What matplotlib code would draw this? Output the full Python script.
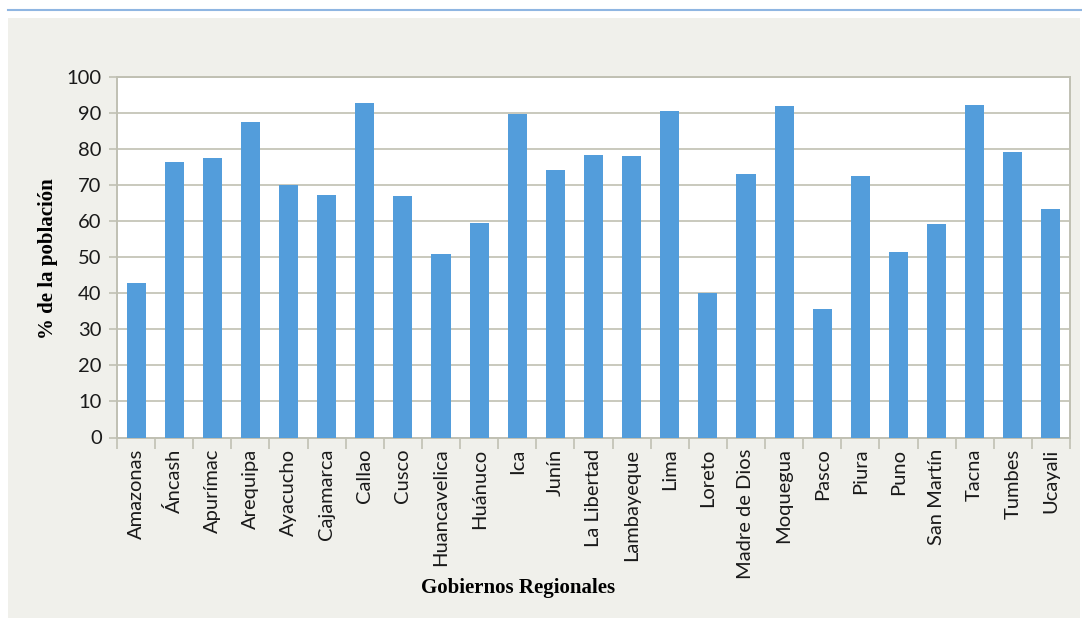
import matplotlib
matplotlib.use("Agg")
import matplotlib.pyplot as plt
import numpy as np

regiones = ["Amazonas", "Áncash", "Apurímac", "Arequipa", "Ayacucho", "Cajamarca",
            "Callao", "Cusco", "Huancavelica", "Huánuco", "Ica", "Junín",
            "La Libertad", "Lambayeque", "Lima", "Loreto", "Madre de Dios",
            "Moquegua", "Pasco", "Piura", "Puno", "San Martín", "Tacna",
            "Tumbes", "Ucayali"]
porcentaje = [42.8, 76.3, 77.4, 87.4, 69.9, 67.2,
              92.7, 66.9, 50.8, 59.4, 89.6, 74.1,
              78.3, 78.0, 90.4, 40.1, 73.0,
              91.8, 35.6, 72.4, 51.4, 59.1, 92.1,
              79.1, 63.3]
y_ticks = list(range(0, 101, 10))

W, H = 1082, 620
fig = plt.figure(figsize=(W / 100, H / 100), dpi=100)
fig.patch.set_facecolor("white")

# gray panel and thin blue rule on top
fig.patches.append(plt.Rectangle((8 / W, 1 - 618 / H), (1080 - 8) / W, (618 - 18) / H,
                                 transform=fig.transFigure, facecolor="#f0f0eb",
                                 edgecolor="none", zorder=-10))
fig.lines.append(plt.Line2D([8 / W, 1.0], [1 - 9.5 / H, 1 - 9.5 / H],
                            transform=fig.transFigure, color="#8fb6e2", lw=1.5))

left, right, top, bottom = 117, 1070, 76.5, 437.5
ax = fig.add_axes([left / W, 1 - bottom / H, (right - left) / W, (bottom - top) / H])
ax.set_facecolor("white")

x = np.arange(len(regiones))
ax.bar(x, porcentaje, width=0.5, color="#539ddb", zorder=3)

ax.set_xlim(-0.5, len(regiones) - 0.5)
ax.set_ylim(0, 100)
ax.set_yticks(y_ticks)
ax.yaxis.grid(True, color="#c9c9bd", lw=1.4, zorder=1)
ax.set_axisbelow(True)

grid_c = "#c0c0b3"
for side in ["left", "bottom", "right", "top"]:
    ax.spines[side].set_color(grid_c)
    ax.spines[side].set_linewidth(1.4)

tick_font = "Lato"
ax.set_yticklabels([str(v) for v in y_ticks], fontsize=14.5, family=tick_font, color="#1a1a1a")
ax.tick_params(axis="y", length=6, color=grid_c, width=1.2, pad=5)

# category boundaries as tick marks, labels at category centres
ax.set_xticks(np.arange(-0.5, len(regiones), 1.0))
ax.set_xticklabels([])
ax.tick_params(axis="x", which="major", length=8, color=grid_c, width=1.2)
ax.set_xticks(x, minor=True)
ax.set_xticklabels(regiones, minor=True, rotation=90, fontsize=14.5,
                   family=tick_font, color="#1a1a1a", va="top", ha="center")
ax.tick_params(axis="x", which="minor", length=0, pad=8)

fig.text(48 / W, 1 - 259 / H, "% de la población", rotation=90, ha="center",
         va="center", fontsize=15, fontweight="bold", family="Liberation Serif")
fig.text(518 / W, 1 - 588 / H, "Gobiernos Regionales", ha="center", va="center",
         fontsize=15, fontweight="bold", family="Liberation Serif")

fig.savefig("out.png", dpi=100, facecolor=fig.get_facecolor())
